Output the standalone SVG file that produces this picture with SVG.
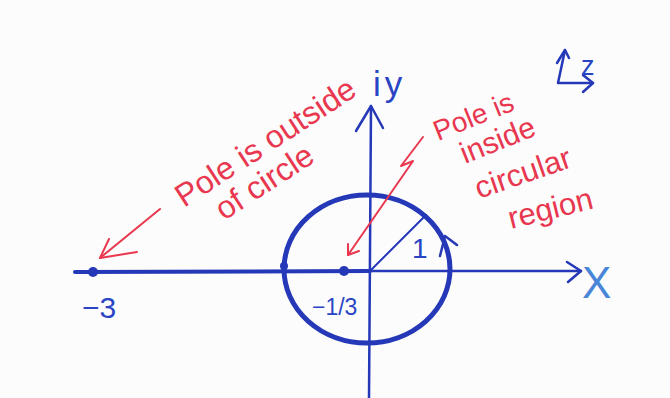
<svg xmlns="http://www.w3.org/2000/svg" width="670" height="398" viewBox="0 0 670 398">
  <style>
    .blue { stroke: #2438b8; fill: none; stroke-linecap: round; stroke-linejoin: round; }
    .red { stroke: #e8374f; fill: none; stroke-linecap: round; stroke-linejoin: round; stroke-width: 2; }
    .rt { font-family: "Liberation Sans", Arial, sans-serif; fill: #e8374f; }
    .bt { font-family: "Liberation Sans", Arial, sans-serif; fill: #2a45c4; }
  </style>
  <rect width="670" height="398" fill="#fcfcfc"/>

  <g id="axes">
    <line class="blue" x1="75" y1="272" x2="370" y2="271" stroke-width="4"/>
    <line class="blue" x1="370" y1="271" x2="581" y2="271" stroke-width="2.5"/>
    <path class="blue" d="M567,262 L581,271 L568,282" stroke-width="2.5"/>
    <line class="blue" x1="371" y1="106" x2="369" y2="398" stroke-width="2.5"/>
    <path class="blue" d="M356,131 L371,106 L383,128" stroke-width="2.5"/>
  </g>

  <g id="circle">
    <ellipse class="blue" cx="367" cy="269" rx="83" ry="74" stroke-width="5"/>
    <line class="blue" x1="370" y1="271" x2="426" y2="215" stroke-width="2"/>
    <path class="blue" d="M440,256 L445,236 L457,245" stroke-width="2.5"/>
    <circle cx="284" cy="266" r="4" fill="#2438b8"/>
  </g>

  <g id="poles">
    <circle cx="93" cy="272" r="5" fill="#2438b8"/>
    <circle cx="344" cy="271" r="5" fill="#2438b8"/>
  </g>

  <g id="labels">
    <text class="bt" x="82" y="318" font-size="30">−3</text>
    <text class="bt" x="312" y="315" font-size="23">−1/3</text>
    <text class="bt" x="412" y="258" font-size="28">1</text>
    <text class="bt" x="373" y="96" font-size="35" letter-spacing="4">iy</text>
    <text class="bt" x="582" y="298" font-size="44" style="fill:#4a86d8">X</text>
  </g>

  <g id="z-plane-icon">
    <path class="blue" d="M565,50 L558,83 L593,83" stroke-width="2.5"/>
    <path class="blue" d="M557,63 L565,50 L569,58" stroke-width="2.5"/>
    <path class="blue" d="M583,75 L593,83 L583,92" stroke-width="2.5"/>
    <text class="bt" x="581" y="75" font-size="27">z</text>
  </g>

  <g id="outside-note">
    <text class="rt" font-size="32" transform="translate(184,208) rotate(-33)">Pole is outside</text>
    <text class="rt" font-size="32" transform="translate(224,221) rotate(-33)">of circle</text>
    <line class="red" x1="160" y1="209" x2="100" y2="258"/>
    <path class="red" d="M109,239 L100,258 L137,252"/>
  </g>

  <g id="inside-note">
    <text class="rt" font-size="28" transform="translate(438,141) rotate(-22)">Pole is</text>
    <text class="rt" font-size="30" transform="translate(465,164) rotate(-22)">inside</text>
    <text class="rt" font-size="31" transform="translate(479,199) rotate(-19)">circular</text>
    <text class="rt" font-size="31" transform="translate(511,229) rotate(-14)">region</text>
    <path class="red" d="M423,137 L401,166 L413,161 L348,255"/>
    <path class="red" d="M348,244 L348,255 L359,251"/>
  </g>
</svg>
